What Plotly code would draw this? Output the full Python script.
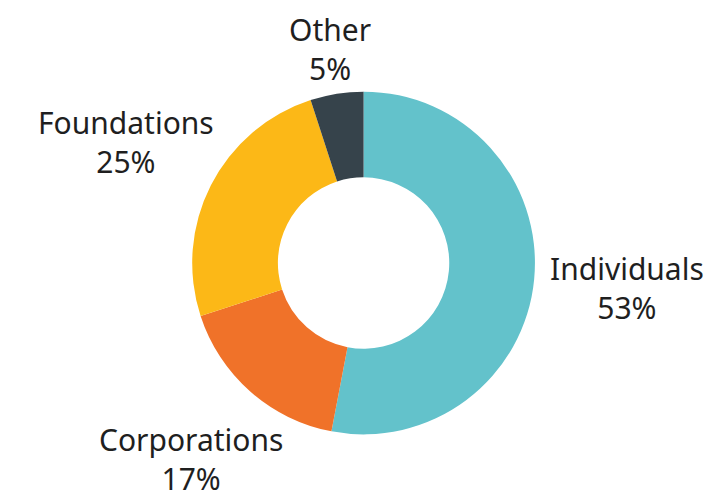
import math
import plotly.graph_objects as go

labels = ["Individuals", "Corporations", "Foundations", "Other"]
values = [53, 17, 25, 5]
colors = ["#63C2CB", "#F07229", "#FCB817", "#36434B"]

W, H = 714, 504
FONT = dict(family="Noto Sans, Open Sans, sans-serif", size=30, color="#1f1f1f")
DOM_X = [0.258, 0.738]
DOM_Y = [0.154, 0.834]

fig = go.Figure(go.Pie(
    labels=labels,
    values=values,
    hole=0.5,
    sort=False,
    direction="clockwise",
    rotation=0,
    marker=dict(colors=colors, line=dict(width=0)),
    textinfo="none",
    showlegend=False,
    hoverinfo="label+percent",
    domain=dict(x=DOM_X, y=DOM_Y),
))

# label placement derived from the slice geometry (outside, along each slice's mid-angle)
cx = (DOM_X[0] + DOM_X[1]) / 2 * W
cy = (DOM_Y[0] + DOM_Y[1]) / 2 * H
radius = min((DOM_X[1] - DOM_X[0]) * W, (DOM_Y[1] - DOM_Y[0]) * H) / 2
gap = 12
line_h = 28
char_w = 0.48
total = sum(values)
cum = 0
for lab, val in zip(labels, values):
    a = (cum + val / 2) / total * 2 * math.pi
    cum += val
    s, c = math.sin(a), math.cos(a)
    w_est = char_w * FONT["size"] * max(len(lab), 4)
    extent = (w_est / 2) * abs(s) + line_h * abs(c)
    d = radius + gap + extent
    fig.add_annotation(
        x=(cx + d * s) / W, y=(cy + d * c) / H,
        xref="paper", yref="paper",
        text=f"{lab}<br>{val}%",
        showarrow=False,
        xanchor="center", yanchor="middle",
        font=FONT,
    )

fig.update_layout(
    width=W,
    height=H,
    margin=dict(l=0, r=0, t=0, b=0),
    paper_bgcolor="white",
    plot_bgcolor="white",
)

fig.write_html("out.html")
